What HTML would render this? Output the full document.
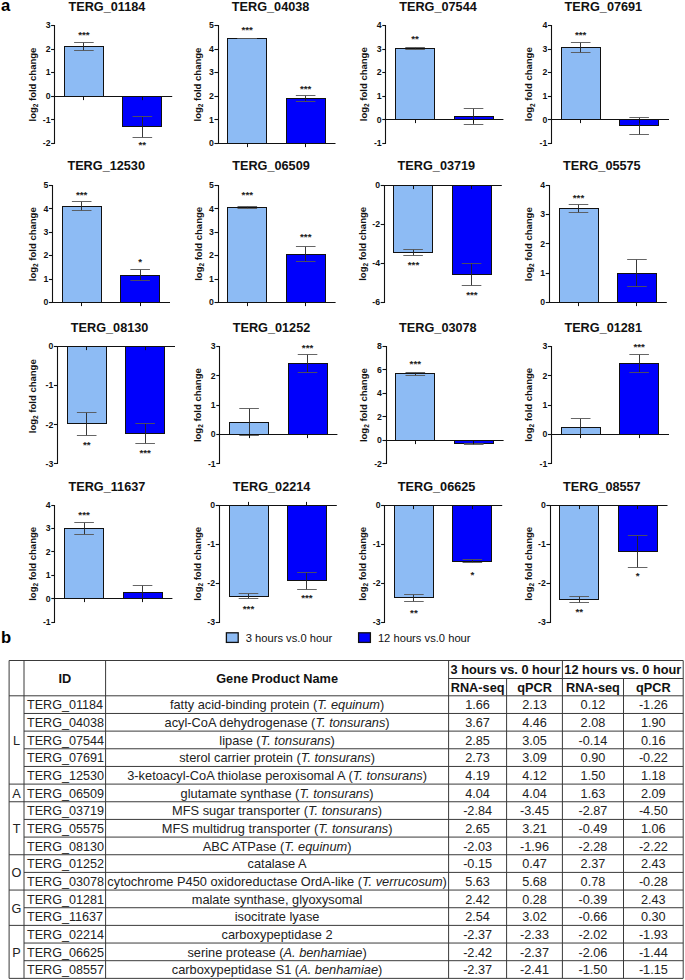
<!DOCTYPE html>
<html><head><meta charset="utf-8"><style>
html,body{margin:0;padding:0;background:#fff;}
svg{display:block;font-family:"Liberation Sans", sans-serif;}
.tt{font-size:12.7px;font-weight:bold;text-anchor:middle;fill:#111;}
.tk{font-size:8.7px;font-weight:bold;text-anchor:end;fill:#111;}
.st{font-size:9.8px;font-weight:bold;text-anchor:middle;fill:#222;}
.yl{font-size:9.5px;font-weight:bold;text-anchor:middle;fill:#111;}
.sub{font-size:6.5px;}
.pl{font-size:16.6px;font-weight:bold;fill:#000;}
.lg{font-size:11.2px;fill:#111;}
.th{font-size:12.75px;font-weight:bold;text-anchor:middle;fill:#111;}
.td{font-size:12.7px;text-anchor:middle;fill:#222;}
.it{font-style:italic;}
.tl{text-anchor:start;font-size:12.6px;}
.tg{font-size:12.8px;}
</style></head>
<body><svg width="685" height="980" viewBox="0 0 685 980">
<rect width="685" height="980" fill="#fff"/>
<text x="0.9" y="10.6" class="pl">a</text>
<text x="1.0" y="642.9" class="pl">b</text>
<rect x="64.5" y="46.5" width="39" height="50" fill="#8dbbf4" stroke="#111" stroke-width="1"/>
<path d="M83.5 42.5V50.5" stroke="#222" stroke-width="0.9" fill="none"/>
<path d="M74.1 42.5H93.7M74.1 50.5H93.7" stroke="#555" stroke-width="0.9" fill="none"/>
<rect x="122.5" y="96.5" width="39" height="30" fill="#0000fc" stroke="#111" stroke-width="1"/>
<path d="M142.5 116.5V137.5" stroke="#222" stroke-width="0.9" fill="none"/>
<path d="M132.55 116.5H152.15M132.55 137.5H152.15" stroke="#555" stroke-width="0.9" fill="none"/>
<path d="M54.5 25V144" stroke="#111" stroke-width="1.1" fill="none"/>
<path d="M51.1 25.5H54.5" stroke="#111" stroke-width="1.1"/>
<text x="50.5" y="28.4" class="tk">3</text>
<path d="M51.1 49.5H54.5" stroke="#111" stroke-width="1.1"/>
<text x="50.5" y="51.93" class="tk">2</text>
<path d="M51.1 72.5H54.5" stroke="#111" stroke-width="1.1"/>
<text x="50.5" y="75.46" class="tk">1</text>
<path d="M51.1 96.5H54.5" stroke="#111" stroke-width="1.1"/>
<text x="50.5" y="98.99" class="tk">0</text>
<path d="M51.1 119.5H54.5" stroke="#111" stroke-width="1.1"/>
<text x="50.5" y="122.52" class="tk">-1</text>
<path d="M51.1 143.5H54.5" stroke="#111" stroke-width="1.1"/>
<text x="50.5" y="146.05" class="tk">-2</text>
<path d="M54.5 96.5H172.2" stroke="#111" stroke-width="1.1" fill="none"/>
<path d="M83.5 96.5V100.1" stroke="#111" stroke-width="1"/>
<path d="M142.5 96.5V100.1" stroke="#111" stroke-width="1"/>
<text x="83.9" y="38.1" class="st">***</text>
<text x="142.35" y="147.6" class="st">**</text>
<text x="106.9" y="11.2" class="tt">TERG_01184</text>
<text transform="translate(35.85 84.6) rotate(-90)" class="yl">log<tspan class="sub" dy="2.2">2</tspan><tspan dy="-2.2"> fold change</tspan></text>
<rect x="227.5" y="38.5" width="39" height="105" fill="#8dbbf4" stroke="#111" stroke-width="1"/>
<path d="M247.5 38.5V38.5" stroke="#222" stroke-width="0.9" fill="none"/>
<path d="M237.4 38.5H257M237.4 38.5H257" stroke="#555" stroke-width="0.9" fill="none"/>
<rect x="286.5" y="98.5" width="39" height="45" fill="#0000fc" stroke="#111" stroke-width="1"/>
<path d="M305.5 95.5V101.5" stroke="#222" stroke-width="0.9" fill="none"/>
<path d="M295.85 95.5H315.45M295.85 101.5H315.45" stroke="#555" stroke-width="0.9" fill="none"/>
<path d="M218.5 25V144" stroke="#111" stroke-width="1.1" fill="none"/>
<path d="M214.4 25.5H218.5" stroke="#111" stroke-width="1.1"/>
<text x="213.8" y="28.4" class="tk">5</text>
<path d="M214.4 49.5H218.5" stroke="#111" stroke-width="1.1"/>
<text x="213.8" y="51.93" class="tk">4</text>
<path d="M214.4 72.5H218.5" stroke="#111" stroke-width="1.1"/>
<text x="213.8" y="75.46" class="tk">3</text>
<path d="M214.4 96.5H218.5" stroke="#111" stroke-width="1.1"/>
<text x="213.8" y="98.99" class="tk">2</text>
<path d="M214.4 119.5H218.5" stroke="#111" stroke-width="1.1"/>
<text x="213.8" y="122.52" class="tk">1</text>
<path d="M214.4 143.5H218.5" stroke="#111" stroke-width="1.1"/>
<text x="213.8" y="146.05" class="tk">0</text>
<path d="M218.5 143.5H335.5" stroke="#111" stroke-width="1.1" fill="none"/>
<path d="M247.5 143.5V147.1" stroke="#111" stroke-width="1"/>
<path d="M305.5 143.5V147.1" stroke="#111" stroke-width="1"/>
<text x="247.2" y="33" class="st">***</text>
<text x="305.65" y="91.8" class="st">***</text>
<text x="270.6" y="11.2" class="tt">TERG_04038</text>
<text transform="translate(201.05 84.6) rotate(-90)" class="yl">log<tspan class="sub" dy="2.2">2</tspan><tspan dy="-2.2"> fold change</tspan></text>
<rect x="395.5" y="48.5" width="39" height="71" fill="#8dbbf4" stroke="#111" stroke-width="1"/>
<path d="M415.5 47.5V49.5" stroke="#222" stroke-width="0.9" fill="none"/>
<path d="M405.3 47.5H424.9M405.3 49.5H424.9" stroke="#555" stroke-width="0.9" fill="none"/>
<rect x="454.5" y="116.5" width="39" height="3" fill="#0000fc" stroke="#111" stroke-width="1"/>
<path d="M473.5 108.5V124.5" stroke="#222" stroke-width="0.9" fill="none"/>
<path d="M463.75 108.5H483.35M463.75 124.5H483.35" stroke="#555" stroke-width="0.9" fill="none"/>
<path d="M385.5 25V144" stroke="#111" stroke-width="1.1" fill="none"/>
<path d="M382.3 25.5H385.5" stroke="#111" stroke-width="1.1"/>
<text x="381.7" y="28.4" class="tk">4</text>
<path d="M382.3 49.5H385.5" stroke="#111" stroke-width="1.1"/>
<text x="381.7" y="51.93" class="tk">3</text>
<path d="M382.3 72.5H385.5" stroke="#111" stroke-width="1.1"/>
<text x="381.7" y="75.46" class="tk">2</text>
<path d="M382.3 96.5H385.5" stroke="#111" stroke-width="1.1"/>
<text x="381.7" y="98.99" class="tk">1</text>
<path d="M382.3 119.5H385.5" stroke="#111" stroke-width="1.1"/>
<text x="381.7" y="122.52" class="tk">0</text>
<path d="M382.3 143.5H385.5" stroke="#111" stroke-width="1.1"/>
<text x="381.7" y="146.05" class="tk">-1</text>
<path d="M385.5 119.5H503.4" stroke="#111" stroke-width="1.1" fill="none"/>
<path d="M415.5 119.5V123.1" stroke="#111" stroke-width="1"/>
<path d="M473.5 119.5V123.1" stroke="#111" stroke-width="1"/>
<text x="415.1" y="41.9" class="st">**</text>
<text x="438" y="11.2" class="tt">TERG_07544</text>
<text transform="translate(367.05 84.25) rotate(-90)" class="yl">log<tspan class="sub" dy="2.2">2</tspan><tspan dy="-2.2"> fold change</tspan></text>
<rect x="561.5" y="47.5" width="39" height="72" fill="#8dbbf4" stroke="#111" stroke-width="1"/>
<path d="M580.5 42.5V52.5" stroke="#222" stroke-width="0.9" fill="none"/>
<path d="M570.9 42.5H590.5M570.9 52.5H590.5" stroke="#555" stroke-width="0.9" fill="none"/>
<rect x="619.5" y="119.5" width="39" height="6" fill="#0000fc" stroke="#111" stroke-width="1"/>
<path d="M639.5 117.5V134.5" stroke="#222" stroke-width="0.9" fill="none"/>
<path d="M629.35 117.5H648.95M629.35 134.5H648.95" stroke="#555" stroke-width="0.9" fill="none"/>
<path d="M551.5 25V144" stroke="#111" stroke-width="1.1" fill="none"/>
<path d="M547.9 25.5H551.5" stroke="#111" stroke-width="1.1"/>
<text x="547.3" y="28.4" class="tk">4</text>
<path d="M547.9 49.5H551.5" stroke="#111" stroke-width="1.1"/>
<text x="547.3" y="51.93" class="tk">3</text>
<path d="M547.9 72.5H551.5" stroke="#111" stroke-width="1.1"/>
<text x="547.3" y="75.46" class="tk">2</text>
<path d="M547.9 96.5H551.5" stroke="#111" stroke-width="1.1"/>
<text x="547.3" y="98.99" class="tk">1</text>
<path d="M547.9 119.5H551.5" stroke="#111" stroke-width="1.1"/>
<text x="547.3" y="122.52" class="tk">0</text>
<path d="M547.9 143.5H551.5" stroke="#111" stroke-width="1.1"/>
<text x="547.3" y="146.05" class="tk">-1</text>
<path d="M551.5 119.5H669" stroke="#111" stroke-width="1.1" fill="none"/>
<path d="M580.5 119.5V123.1" stroke="#111" stroke-width="1"/>
<path d="M639.5 119.5V123.1" stroke="#111" stroke-width="1"/>
<text x="580.7" y="38.4" class="st">***</text>
<text x="603.4" y="11.2" class="tt">TERG_07691</text>
<text transform="translate(532.45 84.25) rotate(-90)" class="yl">log<tspan class="sub" dy="2.2">2</tspan><tspan dy="-2.2"> fold change</tspan></text>
<rect x="62.5" y="206.5" width="39" height="96" fill="#8dbbf4" stroke="#111" stroke-width="1"/>
<path d="M81.5 201.5V210.5" stroke="#222" stroke-width="0.9" fill="none"/>
<path d="M71.9 201.5H91.5M71.9 210.5H91.5" stroke="#555" stroke-width="0.9" fill="none"/>
<rect x="120.5" y="275.5" width="39" height="27" fill="#0000fc" stroke="#111" stroke-width="1"/>
<path d="M140.5 269.5V280.5" stroke="#222" stroke-width="0.9" fill="none"/>
<path d="M130.35 269.5H149.95M130.35 280.5H149.95" stroke="#555" stroke-width="0.9" fill="none"/>
<path d="M52.5 185V303" stroke="#111" stroke-width="1.1" fill="none"/>
<path d="M48.9 185.5H52.5" stroke="#111" stroke-width="1.1"/>
<text x="48.3" y="188.1" class="tk">5</text>
<path d="M48.9 208.5H52.5" stroke="#111" stroke-width="1.1"/>
<text x="48.3" y="211.54" class="tk">4</text>
<path d="M48.9 232.5H52.5" stroke="#111" stroke-width="1.1"/>
<text x="48.3" y="234.98" class="tk">3</text>
<path d="M48.9 255.5H52.5" stroke="#111" stroke-width="1.1"/>
<text x="48.3" y="258.42" class="tk">2</text>
<path d="M48.9 279.5H52.5" stroke="#111" stroke-width="1.1"/>
<text x="48.3" y="281.86" class="tk">1</text>
<path d="M48.9 302.5H52.5" stroke="#111" stroke-width="1.1"/>
<text x="48.3" y="305.3" class="tk">0</text>
<path d="M52.5 302.5H170" stroke="#111" stroke-width="1.1" fill="none"/>
<path d="M81.5 302.5V306.1" stroke="#111" stroke-width="1"/>
<path d="M140.5 302.5V306.1" stroke="#111" stroke-width="1"/>
<text x="81.7" y="197.8" class="st">***</text>
<text x="140.15" y="264.6" class="st">*</text>
<text x="106.2" y="170.4" class="tt">TERG_12530</text>
<text transform="translate(35.85 244.25) rotate(-90)" class="yl">log<tspan class="sub" dy="2.2">2</tspan><tspan dy="-2.2"> fold change</tspan></text>
<rect x="227.5" y="207.5" width="39" height="95" fill="#8dbbf4" stroke="#111" stroke-width="1"/>
<path d="M247.5 206.5V208.5" stroke="#222" stroke-width="0.9" fill="none"/>
<path d="M237.5 206.5H257.1M237.5 208.5H257.1" stroke="#555" stroke-width="0.9" fill="none"/>
<rect x="286.5" y="254.5" width="39" height="48" fill="#0000fc" stroke="#111" stroke-width="1"/>
<path d="M305.5 246.5V261.5" stroke="#222" stroke-width="0.9" fill="none"/>
<path d="M295.95 246.5H315.55M295.95 261.5H315.55" stroke="#555" stroke-width="0.9" fill="none"/>
<path d="M218.5 185V303" stroke="#111" stroke-width="1.1" fill="none"/>
<path d="M214.5 185.5H218.5" stroke="#111" stroke-width="1.1"/>
<text x="213.9" y="188.1" class="tk">5</text>
<path d="M214.5 208.5H218.5" stroke="#111" stroke-width="1.1"/>
<text x="213.9" y="211.54" class="tk">4</text>
<path d="M214.5 232.5H218.5" stroke="#111" stroke-width="1.1"/>
<text x="213.9" y="234.98" class="tk">3</text>
<path d="M214.5 255.5H218.5" stroke="#111" stroke-width="1.1"/>
<text x="213.9" y="258.42" class="tk">2</text>
<path d="M214.5 279.5H218.5" stroke="#111" stroke-width="1.1"/>
<text x="213.9" y="281.86" class="tk">1</text>
<path d="M214.5 302.5H218.5" stroke="#111" stroke-width="1.1"/>
<text x="213.9" y="305.3" class="tk">0</text>
<path d="M218.5 302.5H335.6" stroke="#111" stroke-width="1.1" fill="none"/>
<path d="M247.5 302.5V306.1" stroke="#111" stroke-width="1"/>
<path d="M305.5 302.5V306.1" stroke="#111" stroke-width="1"/>
<text x="247.3" y="197.8" class="st">***</text>
<text x="305.75" y="240" class="st">***</text>
<text x="271" y="170.4" class="tt">TERG_06509</text>
<text transform="translate(201.75 243.9) rotate(-90)" class="yl">log<tspan class="sub" dy="2.2">2</tspan><tspan dy="-2.2"> fold change</tspan></text>
<rect x="393.5" y="185.5" width="39" height="67" fill="#8dbbf4" stroke="#111" stroke-width="1"/>
<path d="M413.5 249.5V255.5" stroke="#222" stroke-width="0.9" fill="none"/>
<path d="M403.3 249.5H422.9M403.3 255.5H422.9" stroke="#555" stroke-width="0.9" fill="none"/>
<rect x="452.5" y="185.5" width="39" height="89" fill="#0000fc" stroke="#111" stroke-width="1"/>
<path d="M471.5 263.5V285.5" stroke="#222" stroke-width="0.9" fill="none"/>
<path d="M461.75 263.5H481.35M461.75 285.5H481.35" stroke="#555" stroke-width="0.9" fill="none"/>
<path d="M384.5 185V303" stroke="#111" stroke-width="1.1" fill="none"/>
<path d="M380.7 185.5H384.5" stroke="#111" stroke-width="1.1"/>
<text x="380.1" y="188.1" class="tk">0</text>
<path d="M380.7 224.5H384.5" stroke="#111" stroke-width="1.1"/>
<text x="380.1" y="227.17" class="tk">-2</text>
<path d="M380.7 263.5H384.5" stroke="#111" stroke-width="1.1"/>
<text x="380.1" y="266.23" class="tk">-4</text>
<path d="M380.7 302.5H384.5" stroke="#111" stroke-width="1.1"/>
<text x="380.1" y="305.3" class="tk">-6</text>
<path d="M384.5 185.5H501.8" stroke="#111" stroke-width="1.1" fill="none"/>
<path d="M413.5 185.5V189.1" stroke="#111" stroke-width="1"/>
<path d="M471.5 185.5V189.1" stroke="#111" stroke-width="1"/>
<text x="413.5" y="268.1" class="st">***</text>
<text x="471.95" y="297.6" class="st">***</text>
<text x="436.4" y="170.4" class="tt">TERG_03719</text>
<text transform="translate(366.05 243.9) rotate(-90)" class="yl">log<tspan class="sub" dy="2.2">2</tspan><tspan dy="-2.2"> fold change</tspan></text>
<rect x="559.5" y="208.5" width="39" height="94" fill="#8dbbf4" stroke="#111" stroke-width="1"/>
<path d="M578.5 204.5V212.5" stroke="#222" stroke-width="0.9" fill="none"/>
<path d="M568.7 204.5H588.3M568.7 212.5H588.3" stroke="#555" stroke-width="0.9" fill="none"/>
<rect x="617.5" y="273.5" width="39" height="29" fill="#0000fc" stroke="#111" stroke-width="1"/>
<path d="M636.5 259.5V286.5" stroke="#222" stroke-width="0.9" fill="none"/>
<path d="M627.15 259.5H646.75M627.15 286.5H646.75" stroke="#555" stroke-width="0.9" fill="none"/>
<path d="M549.5 185V303" stroke="#111" stroke-width="1.1" fill="none"/>
<path d="M545.7 185.5H549.5" stroke="#111" stroke-width="1.1"/>
<text x="545.1" y="188.1" class="tk">4</text>
<path d="M545.7 214.5H549.5" stroke="#111" stroke-width="1.1"/>
<text x="545.1" y="217.4" class="tk">3</text>
<path d="M545.7 243.5H549.5" stroke="#111" stroke-width="1.1"/>
<text x="545.1" y="246.7" class="tk">2</text>
<path d="M545.7 273.5H549.5" stroke="#111" stroke-width="1.1"/>
<text x="545.1" y="276" class="tk">1</text>
<path d="M545.7 302.5H549.5" stroke="#111" stroke-width="1.1"/>
<text x="545.1" y="305.3" class="tk">0</text>
<path d="M549.5 302.5H666.8" stroke="#111" stroke-width="1.1" fill="none"/>
<path d="M578.5 302.5V306.1" stroke="#111" stroke-width="1"/>
<path d="M636.5 302.5V306.1" stroke="#111" stroke-width="1"/>
<text x="578.5" y="200.6" class="st">***</text>
<text x="601.9" y="170.4" class="tt">TERG_05575</text>
<text transform="translate(532.15 244.25) rotate(-90)" class="yl">log<tspan class="sub" dy="2.2">2</tspan><tspan dy="-2.2"> fold change</tspan></text>
<rect x="67.5" y="346.5" width="39" height="77" fill="#8dbbf4" stroke="#111" stroke-width="1"/>
<path d="M86.5 412.5V435.5" stroke="#222" stroke-width="0.9" fill="none"/>
<path d="M76.9 412.5H96.5M76.9 435.5H96.5" stroke="#555" stroke-width="0.9" fill="none"/>
<rect x="125.5" y="346.5" width="39" height="87" fill="#0000fc" stroke="#111" stroke-width="1"/>
<path d="M145.5 423.5V443.5" stroke="#222" stroke-width="0.9" fill="none"/>
<path d="M135.35 423.5H154.95M135.35 443.5H154.95" stroke="#555" stroke-width="0.9" fill="none"/>
<path d="M57.5 346V464" stroke="#111" stroke-width="1.1" fill="none"/>
<path d="M53.9 346.5H57.5" stroke="#111" stroke-width="1.1"/>
<text x="53.3" y="349.2" class="tk">0</text>
<path d="M53.9 385.5H57.5" stroke="#111" stroke-width="1.1"/>
<text x="53.3" y="388.35" class="tk">-1</text>
<path d="M53.9 424.5H57.5" stroke="#111" stroke-width="1.1"/>
<text x="53.3" y="427.5" class="tk">-2</text>
<path d="M53.9 463.5H57.5" stroke="#111" stroke-width="1.1"/>
<text x="53.3" y="466.65" class="tk">-3</text>
<path d="M57.5 346.5H175" stroke="#111" stroke-width="1.1" fill="none"/>
<path d="M86.5 346.5V350.1" stroke="#111" stroke-width="1"/>
<path d="M145.5 346.5V350.1" stroke="#111" stroke-width="1"/>
<text x="86.7" y="447.6" class="st">**</text>
<text x="145.15" y="456.4" class="st">***</text>
<text x="109.6" y="331.6" class="tt">TERG_08130</text>
<text transform="translate(36.05 396.25) rotate(-90)" class="yl">log<tspan class="sub" dy="2.2">2</tspan><tspan dy="-2.2"> fold change</tspan></text>
<rect x="229.5" y="422.5" width="39" height="12" fill="#8dbbf4" stroke="#111" stroke-width="1"/>
<path d="M249.5 408.5V435.5" stroke="#222" stroke-width="0.9" fill="none"/>
<path d="M239.3 408.5H258.9M239.3 435.5H258.9" stroke="#555" stroke-width="0.9" fill="none"/>
<rect x="288.5" y="363.5" width="39" height="71" fill="#0000fc" stroke="#111" stroke-width="1"/>
<path d="M307.5 354.5V372.5" stroke="#222" stroke-width="0.9" fill="none"/>
<path d="M297.75 354.5H317.35M297.75 372.5H317.35" stroke="#555" stroke-width="0.9" fill="none"/>
<path d="M219.5 346V464" stroke="#111" stroke-width="1.1" fill="none"/>
<path d="M216.3 346.5H219.5" stroke="#111" stroke-width="1.1"/>
<text x="215.7" y="349.2" class="tk">3</text>
<path d="M216.3 375.5H219.5" stroke="#111" stroke-width="1.1"/>
<text x="215.7" y="378.56" class="tk">2</text>
<path d="M216.3 405.5H219.5" stroke="#111" stroke-width="1.1"/>
<text x="215.7" y="407.93" class="tk">1</text>
<path d="M216.3 434.5H219.5" stroke="#111" stroke-width="1.1"/>
<text x="215.7" y="437.29" class="tk">0</text>
<path d="M216.3 463.5H219.5" stroke="#111" stroke-width="1.1"/>
<text x="215.7" y="466.65" class="tk">-1</text>
<path d="M219.5 434.5H337.4" stroke="#111" stroke-width="1.1" fill="none"/>
<path d="M249.5 434.5V438.1" stroke="#111" stroke-width="1"/>
<path d="M307.5 434.5V438.1" stroke="#111" stroke-width="1"/>
<text x="307.55" y="351" class="st">***</text>
<text x="271.5" y="331.6" class="tt">TERG_01252</text>
<text transform="translate(200.85 405.2) rotate(-90)" class="yl">log<tspan class="sub" dy="2.2">2</tspan><tspan dy="-2.2"> fold change</tspan></text>
<rect x="395.5" y="373.5" width="39" height="67" fill="#8dbbf4" stroke="#111" stroke-width="1"/>
<path d="M415.5 372.5V375.5" stroke="#222" stroke-width="0.9" fill="none"/>
<path d="M405.5 372.5H425.1M405.5 375.5H425.1" stroke="#555" stroke-width="0.9" fill="none"/>
<rect x="454.5" y="440.5" width="39" height="3" fill="#0000fc" stroke="#111" stroke-width="1"/>
<path d="M473.5 443.5V444.5" stroke="#222" stroke-width="0.9" fill="none"/>
<path d="M463.95 443.5H483.55M463.95 444.5H483.55" stroke="#555" stroke-width="0.9" fill="none"/>
<path d="M386.5 346V464" stroke="#111" stroke-width="1.1" fill="none"/>
<path d="M382.5 346.5H386.5" stroke="#111" stroke-width="1.1"/>
<text x="381.9" y="349.2" class="tk">8</text>
<path d="M382.5 369.5H386.5" stroke="#111" stroke-width="1.1"/>
<text x="381.9" y="372.69" class="tk">6</text>
<path d="M382.5 393.5H386.5" stroke="#111" stroke-width="1.1"/>
<text x="381.9" y="396.18" class="tk">4</text>
<path d="M382.5 416.5H386.5" stroke="#111" stroke-width="1.1"/>
<text x="381.9" y="419.67" class="tk">2</text>
<path d="M382.5 440.5H386.5" stroke="#111" stroke-width="1.1"/>
<text x="381.9" y="443.16" class="tk">0</text>
<path d="M382.5 463.5H386.5" stroke="#111" stroke-width="1.1"/>
<text x="381.9" y="466.65" class="tk">-2</text>
<path d="M386.5 440.5H503.6" stroke="#111" stroke-width="1.1" fill="none"/>
<path d="M415.5 440.5V444.1" stroke="#111" stroke-width="1"/>
<path d="M473.5 440.5V444.1" stroke="#111" stroke-width="1"/>
<text x="415.3" y="366.8" class="st">***</text>
<text x="437.9" y="331.6" class="tt">TERG_03078</text>
<text transform="translate(366.75 405.2) rotate(-90)" class="yl">log<tspan class="sub" dy="2.2">2</tspan><tspan dy="-2.2"> fold change</tspan></text>
<rect x="561.5" y="427.5" width="39" height="7" fill="#8dbbf4" stroke="#111" stroke-width="1"/>
<path d="M580.5 418.5V434.5" stroke="#222" stroke-width="0.9" fill="none"/>
<path d="M570.9 418.5H590.5M570.9 434.5H590.5" stroke="#555" stroke-width="0.9" fill="none"/>
<rect x="619.5" y="363.5" width="39" height="71" fill="#0000fc" stroke="#111" stroke-width="1"/>
<path d="M639.5 354.5V372.5" stroke="#222" stroke-width="0.9" fill="none"/>
<path d="M629.35 354.5H648.95M629.35 372.5H648.95" stroke="#555" stroke-width="0.9" fill="none"/>
<path d="M551.5 346V464" stroke="#111" stroke-width="1.1" fill="none"/>
<path d="M547.9 346.5H551.5" stroke="#111" stroke-width="1.1"/>
<text x="547.3" y="349.2" class="tk">3</text>
<path d="M547.9 375.5H551.5" stroke="#111" stroke-width="1.1"/>
<text x="547.3" y="378.56" class="tk">2</text>
<path d="M547.9 405.5H551.5" stroke="#111" stroke-width="1.1"/>
<text x="547.3" y="407.93" class="tk">1</text>
<path d="M547.9 434.5H551.5" stroke="#111" stroke-width="1.1"/>
<text x="547.3" y="437.29" class="tk">0</text>
<path d="M547.9 463.5H551.5" stroke="#111" stroke-width="1.1"/>
<text x="547.3" y="466.65" class="tk">-1</text>
<path d="M551.5 434.5H669" stroke="#111" stroke-width="1.1" fill="none"/>
<path d="M580.5 434.5V438.1" stroke="#111" stroke-width="1"/>
<path d="M639.5 434.5V438.1" stroke="#111" stroke-width="1"/>
<text x="639.15" y="349.8" class="st">***</text>
<text x="603.2" y="331.6" class="tt">TERG_01281</text>
<text transform="translate(532.15 404.9) rotate(-90)" class="yl">log<tspan class="sub" dy="2.2">2</tspan><tspan dy="-2.2"> fold change</tspan></text>
<rect x="64.5" y="528.5" width="39" height="70" fill="#8dbbf4" stroke="#111" stroke-width="1"/>
<path d="M84.5 522.5V534.5" stroke="#222" stroke-width="0.9" fill="none"/>
<path d="M74.3 522.5H93.9M74.3 534.5H93.9" stroke="#555" stroke-width="0.9" fill="none"/>
<rect x="123.5" y="592.5" width="39" height="6" fill="#0000fc" stroke="#111" stroke-width="1"/>
<path d="M142.5 585.5V598.5" stroke="#222" stroke-width="0.9" fill="none"/>
<path d="M132.75 585.5H152.35M132.75 598.5H152.35" stroke="#555" stroke-width="0.9" fill="none"/>
<path d="M54.5 505V623" stroke="#111" stroke-width="1.1" fill="none"/>
<path d="M51.3 505.5H54.5" stroke="#111" stroke-width="1.1"/>
<text x="50.7" y="507.9" class="tk">4</text>
<path d="M51.3 528.5H54.5" stroke="#111" stroke-width="1.1"/>
<text x="50.7" y="531.34" class="tk">3</text>
<path d="M51.3 551.5H54.5" stroke="#111" stroke-width="1.1"/>
<text x="50.7" y="554.78" class="tk">2</text>
<path d="M51.3 575.5H54.5" stroke="#111" stroke-width="1.1"/>
<text x="50.7" y="578.22" class="tk">1</text>
<path d="M51.3 598.5H54.5" stroke="#111" stroke-width="1.1"/>
<text x="50.7" y="601.66" class="tk">0</text>
<path d="M51.3 622.5H54.5" stroke="#111" stroke-width="1.1"/>
<text x="50.7" y="625.1" class="tk">-1</text>
<path d="M54.5 598.5H172.4" stroke="#111" stroke-width="1.1" fill="none"/>
<path d="M84.5 598.5V602.1" stroke="#111" stroke-width="1"/>
<path d="M142.5 598.5V602.1" stroke="#111" stroke-width="1"/>
<text x="84.1" y="517.8" class="st">***</text>
<text x="106.9" y="490.5" class="tt">TERG_11637</text>
<text transform="translate(35.85 563.9) rotate(-90)" class="yl">log<tspan class="sub" dy="2.2">2</tspan><tspan dy="-2.2"> fold change</tspan></text>
<rect x="229.5" y="505.5" width="39" height="91" fill="#8dbbf4" stroke="#111" stroke-width="1"/>
<path d="M248.5 593.5V598.5" stroke="#222" stroke-width="0.9" fill="none"/>
<path d="M238.7 593.5H258.3M238.7 598.5H258.3" stroke="#555" stroke-width="0.9" fill="none"/>
<rect x="287.5" y="505.5" width="39" height="75" fill="#0000fc" stroke="#111" stroke-width="1"/>
<path d="M306.5 572.5V589.5" stroke="#222" stroke-width="0.9" fill="none"/>
<path d="M297.15 572.5H316.75M297.15 589.5H316.75" stroke="#555" stroke-width="0.9" fill="none"/>
<path d="M219.5 505V623" stroke="#111" stroke-width="1.1" fill="none"/>
<path d="M215.7 505.5H219.5" stroke="#111" stroke-width="1.1"/>
<text x="215.1" y="507.9" class="tk">0</text>
<path d="M215.7 544.5H219.5" stroke="#111" stroke-width="1.1"/>
<text x="215.1" y="546.97" class="tk">-1</text>
<path d="M215.7 583.5H219.5" stroke="#111" stroke-width="1.1"/>
<text x="215.1" y="586.03" class="tk">-2</text>
<path d="M215.7 622.5H219.5" stroke="#111" stroke-width="1.1"/>
<text x="215.1" y="625.1" class="tk">-3</text>
<path d="M219.5 505.5H336.8" stroke="#111" stroke-width="1.1" fill="none"/>
<path d="M248.5 505.5V501.9" stroke="#111" stroke-width="1"/>
<path d="M306.5 505.5V501.9" stroke="#111" stroke-width="1"/>
<text x="248.5" y="611.9" class="st">***</text>
<text x="306.95" y="601.4" class="st">***</text>
<text x="271.6" y="490.5" class="tt">TERG_02214</text>
<text transform="translate(200.85 563.9) rotate(-90)" class="yl">log<tspan class="sub" dy="2.2">2</tspan><tspan dy="-2.2"> fold change</tspan></text>
<rect x="394.5" y="505.5" width="39" height="92" fill="#8dbbf4" stroke="#111" stroke-width="1"/>
<path d="M413.5 594.5V601.5" stroke="#222" stroke-width="0.9" fill="none"/>
<path d="M404.1 594.5H423.7M404.1 601.5H423.7" stroke="#555" stroke-width="0.9" fill="none"/>
<rect x="452.5" y="505.5" width="39" height="56" fill="#0000fc" stroke="#111" stroke-width="1"/>
<path d="M472.5 559.5V562.5" stroke="#222" stroke-width="0.9" fill="none"/>
<path d="M462.55 559.5H482.15M462.55 562.5H482.15" stroke="#555" stroke-width="0.9" fill="none"/>
<path d="M384.5 505V623" stroke="#111" stroke-width="1.1" fill="none"/>
<path d="M381.1 505.5H384.5" stroke="#111" stroke-width="1.1"/>
<text x="380.5" y="507.9" class="tk">0</text>
<path d="M381.1 544.5H384.5" stroke="#111" stroke-width="1.1"/>
<text x="380.5" y="546.97" class="tk">-1</text>
<path d="M381.1 583.5H384.5" stroke="#111" stroke-width="1.1"/>
<text x="380.5" y="586.03" class="tk">-2</text>
<path d="M381.1 622.5H384.5" stroke="#111" stroke-width="1.1"/>
<text x="380.5" y="625.1" class="tk">-3</text>
<path d="M384.5 505.5H502.2" stroke="#111" stroke-width="1.1" fill="none"/>
<path d="M413.5 505.5V509.1" stroke="#111" stroke-width="1"/>
<path d="M472.5 505.5V509.1" stroke="#111" stroke-width="1"/>
<text x="413.9" y="616.4" class="st">**</text>
<text x="472.35" y="577.5" class="st">*</text>
<text x="436.6" y="490.5" class="tt">TERG_06625</text>
<text transform="translate(366.05 563.9) rotate(-90)" class="yl">log<tspan class="sub" dy="2.2">2</tspan><tspan dy="-2.2"> fold change</tspan></text>
<rect x="559.5" y="505.5" width="39" height="94" fill="#8dbbf4" stroke="#111" stroke-width="1"/>
<path d="M579.5 596.5V602.5" stroke="#222" stroke-width="0.9" fill="none"/>
<path d="M569.4 596.5H589M569.4 602.5H589" stroke="#555" stroke-width="0.9" fill="none"/>
<rect x="618.5" y="505.5" width="39" height="46" fill="#0000fc" stroke="#111" stroke-width="1"/>
<path d="M637.5 535.5V567.5" stroke="#222" stroke-width="0.9" fill="none"/>
<path d="M627.85 535.5H647.45M627.85 567.5H647.45" stroke="#555" stroke-width="0.9" fill="none"/>
<path d="M550.5 505V623" stroke="#111" stroke-width="1.1" fill="none"/>
<path d="M546.4 505.5H550.5" stroke="#111" stroke-width="1.1"/>
<text x="545.8" y="507.9" class="tk">0</text>
<path d="M546.4 544.5H550.5" stroke="#111" stroke-width="1.1"/>
<text x="545.8" y="546.97" class="tk">-1</text>
<path d="M546.4 583.5H550.5" stroke="#111" stroke-width="1.1"/>
<text x="545.8" y="586.03" class="tk">-2</text>
<path d="M546.4 622.5H550.5" stroke="#111" stroke-width="1.1"/>
<text x="545.8" y="625.1" class="tk">-3</text>
<path d="M550.5 505.5H667.5" stroke="#111" stroke-width="1.1" fill="none"/>
<path d="M579.5 505.5V509.1" stroke="#111" stroke-width="1"/>
<path d="M637.5 505.5V509.1" stroke="#111" stroke-width="1"/>
<text x="579.2" y="614.6" class="st">**</text>
<text x="637.65" y="578.6" class="st">*</text>
<text x="601.9" y="490.5" class="tt">TERG_08557</text>
<text transform="translate(532.15 563.9) rotate(-90)" class="yl">log<tspan class="sub" dy="2.2">2</tspan><tspan dy="-2.2"> fold change</tspan></text>
<rect x="226.4" y="632.8" width="11.8" height="9.6" fill="#8dbbf4" stroke="#111" stroke-width="1.3"/>
<text x="245.7" y="641.5" class="lg">3 hours vs.0 hour</text>
<rect x="358.6" y="632.8" width="11.8" height="9.6" fill="#0000fc" stroke="#111" stroke-width="1.3"/>
<text x="377.9" y="641.5" class="lg">12 hours vs.0 hour</text>
<path d="M9.1 660.5H683.2 M448.6 678.5H683.2 M9.1 695.8H683.2 M24.0 713.46H683.2 M24.0 731.12H683.2 M24.0 748.78H683.2 M24.0 766.44H683.2 M9.1 784.1H683.2 M9.1 801.76H683.2 M24.0 819.42H683.2 M24.0 837.08H683.2 M9.1 854.74H683.2 M24.0 872.4H683.2 M9.1 890.06H683.2 M24.0 907.72H683.2 M9.1 925.38H683.2 M24.0 943.04H683.2 M24.0 960.7H683.2 M9.1 978.36H683.2 M9.1 660.5V978.36 M24.0 660.5V978.36 M105.6 660.5V978.36 M448.6 660.5V978.36 M506.6 678.5V978.36 M562.4 660.5V978.36 M623.5 678.5V978.36 M683.2 660.5V978.36" stroke="#3a3a3a" stroke-width="1" fill="none"/>
<text x="64.8" y="682.7" class="th">ID</text>
<text x="277.1" y="682.7" class="th">Gene Product Name</text>
<text x="505.5" y="673.6" class="th">3 hours vs. 0 hour</text>
<text x="622.8" y="673.6" class="th">12 hours vs. 0 hour</text>
<text x="477.6" y="692.2" class="th">RNA-seq</text>
<text x="534.5" y="692.2" class="th">qPCR</text>
<text x="592.95" y="692.2" class="th">RNA-seq</text>
<text x="653.35" y="692.2" class="th">qPCR</text>
<text x="27" y="709.26" class="td tl">TERG_01184</text>
<text x="277.1" y="709.26" class="td tg">fatty acid-binding protein (<tspan class="it">T. equinum</tspan>)</text>
<text x="477.6" y="709.26" class="td">1.66</text>
<text x="534.5" y="709.26" class="td">2.13</text>
<text x="592.95" y="709.26" class="td">0.12</text>
<text x="653.35" y="709.26" class="td">-1.26</text>
<text x="27" y="726.92" class="td tl">TERG_04038</text>
<text x="277.1" y="726.92" class="td tg">acyl-CoA dehydrogenase (<tspan class="it">T. tonsurans</tspan>)</text>
<text x="477.6" y="726.92" class="td">3.67</text>
<text x="534.5" y="726.92" class="td">4.46</text>
<text x="592.95" y="726.92" class="td">2.08</text>
<text x="653.35" y="726.92" class="td">1.90</text>
<text x="27" y="744.58" class="td tl">TERG_07544</text>
<text x="277.1" y="744.58" class="td tg">lipase (<tspan class="it">T. tonsurans</tspan>)</text>
<text x="477.6" y="744.58" class="td">2.85</text>
<text x="534.5" y="744.58" class="td">3.05</text>
<text x="592.95" y="744.58" class="td">-0.14</text>
<text x="653.35" y="744.58" class="td">0.16</text>
<text x="27" y="762.24" class="td tl">TERG_07691</text>
<text x="277.1" y="762.24" class="td tg">sterol carrier protein (<tspan class="it">T. tonsurans</tspan>)</text>
<text x="477.6" y="762.24" class="td">2.73</text>
<text x="534.5" y="762.24" class="td">3.09</text>
<text x="592.95" y="762.24" class="td">0.90</text>
<text x="653.35" y="762.24" class="td">-0.22</text>
<text x="27" y="779.9" class="td tl">TERG_12530</text>
<text x="277.1" y="779.9" class="td tg">3-ketoacyl-CoA thiolase peroxisomal A (<tspan class="it">T. tonsurans</tspan>)</text>
<text x="477.6" y="779.9" class="td">4.19</text>
<text x="534.5" y="779.9" class="td">4.12</text>
<text x="592.95" y="779.9" class="td">1.50</text>
<text x="653.35" y="779.9" class="td">1.18</text>
<text x="27" y="797.56" class="td tl">TERG_06509</text>
<text x="277.1" y="797.56" class="td tg">glutamate synthase (<tspan class="it">T. tonsurans</tspan>)</text>
<text x="477.6" y="797.56" class="td">4.04</text>
<text x="534.5" y="797.56" class="td">4.04</text>
<text x="592.95" y="797.56" class="td">1.63</text>
<text x="653.35" y="797.56" class="td">2.09</text>
<text x="27" y="815.22" class="td tl">TERG_03719</text>
<text x="277.1" y="815.22" class="td tg">MFS sugar transporter (<tspan class="it">T. tonsurans</tspan>)</text>
<text x="477.6" y="815.22" class="td">-2.84</text>
<text x="534.5" y="815.22" class="td">-3.45</text>
<text x="592.95" y="815.22" class="td">-2.87</text>
<text x="653.35" y="815.22" class="td">-4.50</text>
<text x="27" y="832.88" class="td tl">TERG_05575</text>
<text x="277.1" y="832.88" class="td tg">MFS multidrug transporter (<tspan class="it">T. tonsurans</tspan>)</text>
<text x="477.6" y="832.88" class="td">2.65</text>
<text x="534.5" y="832.88" class="td">3.21</text>
<text x="592.95" y="832.88" class="td">-0.49</text>
<text x="653.35" y="832.88" class="td">1.06</text>
<text x="27" y="850.54" class="td tl">TERG_08130</text>
<text x="277.1" y="850.54" class="td tg">ABC ATPase (<tspan class="it">T. equinum</tspan>)</text>
<text x="477.6" y="850.54" class="td">-2.03</text>
<text x="534.5" y="850.54" class="td">-1.96</text>
<text x="592.95" y="850.54" class="td">-2.28</text>
<text x="653.35" y="850.54" class="td">-2.22</text>
<text x="27" y="868.2" class="td tl">TERG_01252</text>
<text x="277.1" y="868.2" class="td tg">catalase A</text>
<text x="477.6" y="868.2" class="td">-0.15</text>
<text x="534.5" y="868.2" class="td">0.47</text>
<text x="592.95" y="868.2" class="td">2.37</text>
<text x="653.35" y="868.2" class="td">2.43</text>
<text x="27" y="885.86" class="td tl">TERG_03078</text>
<text x="277.1" y="885.86" class="td tg">cytochrome P450 oxidoreductase OrdA-like (<tspan class="it">T. verrucosum</tspan>)</text>
<text x="477.6" y="885.86" class="td">5.63</text>
<text x="534.5" y="885.86" class="td">5.68</text>
<text x="592.95" y="885.86" class="td">0.78</text>
<text x="653.35" y="885.86" class="td">-0.28</text>
<text x="27" y="903.52" class="td tl">TERG_01281</text>
<text x="277.1" y="903.52" class="td tg">malate synthase, glyoxysomal</text>
<text x="477.6" y="903.52" class="td">2.42</text>
<text x="534.5" y="903.52" class="td">0.28</text>
<text x="592.95" y="903.52" class="td">-0.39</text>
<text x="653.35" y="903.52" class="td">2.43</text>
<text x="27" y="921.18" class="td tl">TERG_11637</text>
<text x="277.1" y="921.18" class="td tg">isocitrate lyase</text>
<text x="477.6" y="921.18" class="td">2.54</text>
<text x="534.5" y="921.18" class="td">3.02</text>
<text x="592.95" y="921.18" class="td">-0.66</text>
<text x="653.35" y="921.18" class="td">0.30</text>
<text x="27" y="938.84" class="td tl">TERG_02214</text>
<text x="277.1" y="938.84" class="td tg">carboxypeptidase 2</text>
<text x="477.6" y="938.84" class="td">-2.37</text>
<text x="534.5" y="938.84" class="td">-2.33</text>
<text x="592.95" y="938.84" class="td">-2.02</text>
<text x="653.35" y="938.84" class="td">-1.93</text>
<text x="27" y="956.5" class="td tl">TERG_06625</text>
<text x="277.1" y="956.5" class="td tg">serine protease (<tspan class="it">A. benhamiae</tspan>)</text>
<text x="477.6" y="956.5" class="td">-2.42</text>
<text x="534.5" y="956.5" class="td">-2.37</text>
<text x="592.95" y="956.5" class="td">-2.06</text>
<text x="653.35" y="956.5" class="td">-1.44</text>
<text x="27" y="974.16" class="td tl">TERG_08557</text>
<text x="277.1" y="974.16" class="td tg">carboxypeptidase S1 (<tspan class="it">A. benhamiae</tspan>)</text>
<text x="477.6" y="974.16" class="td">-2.37</text>
<text x="534.5" y="974.16" class="td">-2.41</text>
<text x="592.95" y="974.16" class="td">-1.50</text>
<text x="653.35" y="974.16" class="td">-1.15</text>
<text x="16.55" y="744.85" class="td">L</text>
<text x="16.55" y="797.83" class="td">A</text>
<text x="16.55" y="833.15" class="td">T</text>
<text x="16.55" y="877.3" class="td">O</text>
<text x="16.55" y="912.62" class="td">G</text>
<text x="16.55" y="956.77" class="td">P</text>
</svg></body></html>
